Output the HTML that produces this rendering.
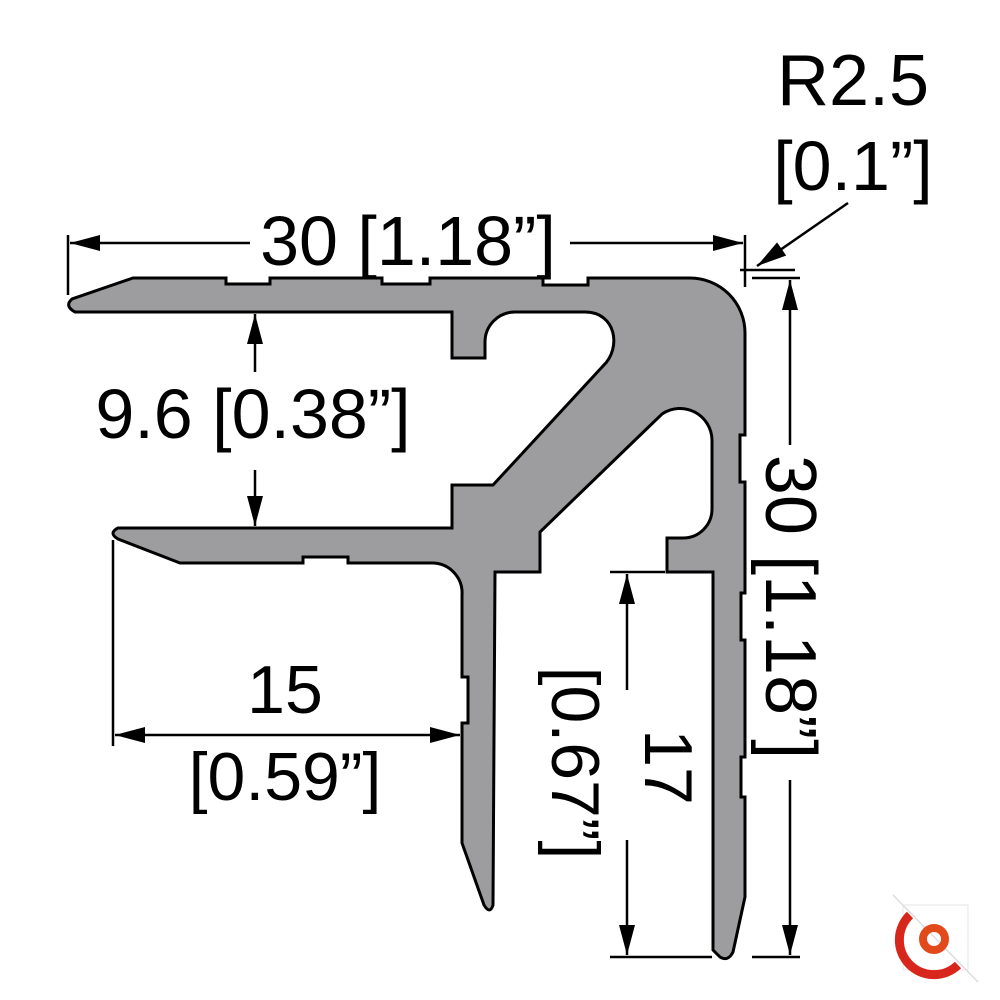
<!DOCTYPE html>
<html><head><meta charset="utf-8"><style>
html,body{margin:0;padding:0;background:#fff;}
svg{display:block;}
text{font-family:"Liberation Sans",sans-serif;fill:#000;}
</style></head><body>
<svg width="1000" height="1000" viewBox="0 0 1000 1000" xmlns="http://www.w3.org/2000/svg">
<defs>
<marker id="b" viewBox="0 0 30 16" refX="30" refY="8" markerWidth="30" markerHeight="16" markerUnits="userSpaceOnUse" orient="auto-start-reverse">
<path d="M0,0 L30,8 L0,16 z" fill="#000"/></marker>
</defs>

<path fill="#9d9d9f" stroke="#000" stroke-width="3" stroke-linejoin="miter" d="
M133,278 L226,278 L226,284 L270,284 L270,278 L382,278 L382,284 L430,284 L430,278
L543,278 L543,285 L588,285 L588,278 L690,278 A55,55 0 0 1 745,333
L745,435 L740,435 L740,482 L745,482 L745,593 L741,593 L741,640 L745,640
L745,757 L741,757 L741,797 L745,797 L745,897 L733,952 Q728,962 720,957 L713,950
L713,572 L667,572 L667,538 L683,538 A29,29 0 0 0 712,509 L712,440 A32,32 0 0 0 662,414
L540,532 L540,572 L495,572 L493,905 Q490,915 484,905 L462,843 L462,723 L468,723 L468,677 L462,677
L462,595 A30,30 0 0 0 433,563 L348,563 L348,557 L303,557 L303,563 L180,563 L118,539
Q108,533 118,528 L452,528 L452,485 L493,485 L603,366 C622,348 616,312 585,312 L515,312
A30,30 0 0 0 485,342 L485,358 L452,358 L452,312 L75,312 Q64,306 72,299 Z"/>

<g stroke="#000" stroke-width="2.5" fill="none">
<line x1="68" y1="235" x2="68" y2="295"/>
<line x1="745" y1="235" x2="745" y2="287"/>
<line x1="70" y1="243" x2="250" y2="243" marker-start="url(#b)"/>
<line x1="570" y1="243" x2="743" y2="243" marker-end="url(#b)"/>
<line x1="740" y1="270" x2="795" y2="270"/>
<line x1="848" y1="203" x2="757" y2="266" marker-end="url(#b)"/>
<line x1="752" y1="278" x2="800" y2="278"/>
<line x1="752" y1="957" x2="800" y2="957"/>
<line x1="790" y1="280" x2="790" y2="445" marker-start="url(#b)"/>
<line x1="790" y1="780" x2="790" y2="955" marker-end="url(#b)"/>
<line x1="255" y1="314" x2="255" y2="372" marker-start="url(#b)"/>
<line x1="255" y1="470" x2="255" y2="526" marker-end="url(#b)"/>
<line x1="113" y1="540" x2="113" y2="746"/>
<line x1="115" y1="735" x2="460" y2="735" marker-start="url(#b)" marker-end="url(#b)"/>
<line x1="610" y1="572" x2="665" y2="572"/>
<line x1="610" y1="957" x2="712" y2="957"/>
<line x1="627" y1="574" x2="627" y2="690" marker-start="url(#b)"/>
<line x1="627" y1="840" x2="627" y2="955" marker-end="url(#b)"/>
</g>

<text x="408" y="265" font-size="70" text-anchor="middle">30 [1.18”]</text>
<text x="853" y="105" font-size="72" text-anchor="middle">R2.5</text>
<text x="853" y="190" font-size="70" text-anchor="middle">[0.1”]</text>
<text x="253" y="438" font-size="70" text-anchor="middle">9.6 [0.38”]</text>
<text x="285" y="713" font-size="68" text-anchor="middle">15</text>
<text x="285" y="800" font-size="68" text-anchor="middle">[0.59”]</text>
<text transform="translate(766,607) rotate(90)" font-size="72" text-anchor="middle">30 [1.18”]</text>
<text transform="translate(645,767) rotate(90)" font-size="68" text-anchor="middle">17</text>
<text transform="translate(552,763) rotate(90)" font-size="68" text-anchor="middle">[0.67”]</text>

<g fill="none">
<rect x="903" y="905" width="65" height="65" stroke="#e6e6e6" stroke-width="1"/>
<line x1="893" y1="895" x2="978" y2="982" stroke="#ddd" stroke-width="1.5"/>
<path d="M910,915 A30,30 0 0 0 958,965" stroke="#d9261c" stroke-width="9"/>
<circle cx="934" cy="939" r="11" stroke="#e24a1c" stroke-width="8"/>
</g>
</svg>
</body></html>
